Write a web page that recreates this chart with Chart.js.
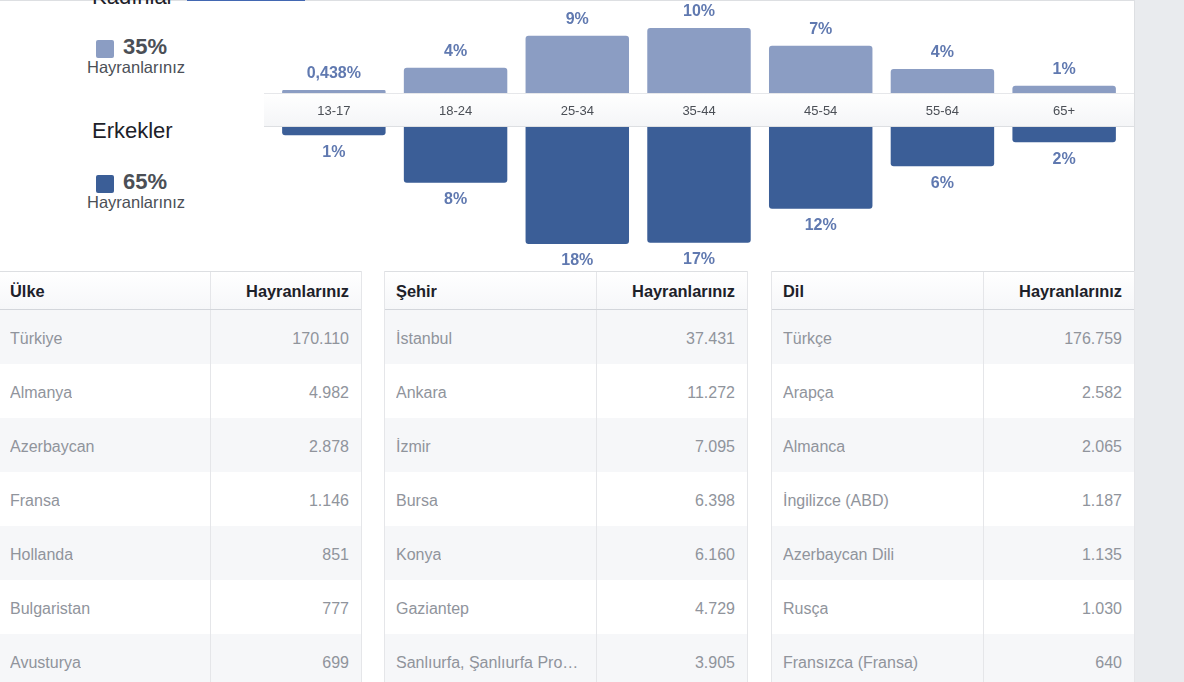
<!DOCTYPE html>
<html lang="tr">
<head>
<meta charset="utf-8">
<script src="https://cdn.jsdelivr.net/npm/chart.js@4.4.1/dist/chart.umd.min.js"></script>
<style>
  html, body { margin: 0; padding: 0; }
  body {
    width: 1184px; height: 682px; overflow: hidden; position: relative;
    background: #fff; font-family: "Liberation Sans", Arial, Helvetica, sans-serif;
  }
  .abs { position: absolute; white-space: nowrap; }
  #topLine { left: 0; top: 0; width: 1134px; height: 1px; background: #dddfe2; }
  #tabLine { left: 187px; top: 0; width: 118px; height: 1px; background: #4267b2; }
  #sidePanel { left: 1134px; top: 0; width: 50px; height: 682px; background: #e9ebee; border-left: 1px solid #dddfe2; }
  .gender { font-size: 22px; line-height: 22px; color: #1d2129; }
  .share { font-size: 22px; line-height: 22px; font-weight: bold; color: #4b4f56; }
  .fans { font-size: 16.5px; line-height: 16.5px; color: #4b4f56; }
  .swatch { width: 18px; height: 18px; border-radius: 2px; }
  #chartTop { left: 264px; top: 0; }
  #chartBottom { left: 264px; top: 93px; }
  .tbl {
    position: absolute; top: 271px; width: 364px; box-sizing: border-box;
    border-left: 1px solid #e5e6e9; border-right: 1px solid #e5e6e9; height: 420px;
  }
  .row { display: flex; height: 54px; font-size: 16px; color: #90949c; }
  .row:nth-child(even) { background: #f6f7f9; }
  .head {
    height: 39px; box-sizing: border-box; border-top: 1px solid #dddfe2; border-bottom: 1px solid #d3d6db;
    background: linear-gradient(#ffffff, #f6f7f9); font-weight: bold; color: #1d2129; font-size: 16.4px;
  }
  .name, .val { box-sizing: border-box; display: flex; align-items: center; overflow: hidden; padding-top: 4px; }
  .head .name, .head .val { padding-top: 2px; }
  .name { width: 212px; padding-left: 11px; padding-right: 10px; border-right: 1px solid #e5e6e9; }
  .name span { overflow: hidden; text-overflow: ellipsis; white-space: nowrap; }
  .val { width: 150px; padding-right: 12px; justify-content: flex-end; }
</style>
</head>
<body>
<div class="abs" id="topLine"></div>
<div class="abs" id="tabLine"></div>
<div class="abs" id="sidePanel"></div>

<div class="abs gender" style="left:92px; top:-14px;">Kadınlar</div>
<div class="abs swatch" style="left:96px; top:40px; background:#8b9dc3;"></div>
<div class="abs share" id="womenShare" style="left:123px; top:36px;"></div>
<div class="abs fans" style="left:87px; top:58.5px;">Hayranlarınız</div>

<div class="abs gender" style="left:92px; top:120px;">Erkekler</div>
<div class="abs swatch" style="left:96px; top:175px; background:#3b5e97;"></div>
<div class="abs share" id="menShare" style="left:123px; top:171px;"></div>
<div class="abs fans" style="left:87px; top:193.5px;">Hayranlarınız</div>

<canvas class="abs" id="chartTop" width="870" height="93"></canvas>
<canvas class="abs" id="chartBottom" width="870" height="177"></canvas>

<div class="tbl" id="tblCountry" style="left:-2px;"></div>
<div class="tbl" id="tblCity" style="left:384px;"></div>
<div class="tbl" id="tblLang" style="left:771px;"></div>

<script>
// age groups and share of fans (%)
var ageGroups = ['13-17', '18-24', '25-34', '35-44', '45-54', '55-64', '65+'];
var womenPct = [0.438, 3.8, 8.6, 9.8, 7.1, 3.6, 1.1];
var menPct = [1.25, 8.4, 17.6, 17.4, 12.3, 5.9, 2.3];
var womenTotal = 35;
var menTotal = 65;

// top lists
var countries = ['Türkiye', 'Almanya', 'Azerbaycan', 'Fransa', 'Hollanda', 'Bulgaristan', 'Avusturya'];
var countryFans = [170110, 4982, 2878, 1146, 851, 777, 699];
var cities = ['İstanbul', 'Ankara', 'İzmir', 'Bursa', 'Konya', 'Gaziantep', 'Sanlıurfa, Şanlıurfa Province'];
var cityFans = [37431, 11272, 7095, 6398, 6160, 4729, 3905];
var languages = ['Türkçe', 'Arapça', 'Almanca', 'İngilizce (ABD)', 'Azerbaycan Dili', 'Rusça', 'Fransızca (Fransa)'];
var languageFans = [176759, 2582, 2065, 1187, 1135, 1030, 640];

var FONT = '"Liberation Sans", Arial, sans-serif';

function pctText(v) {
    if (v < 1) {
        return v.toLocaleString('tr-TR', { maximumFractionDigits: 3 }) + '%';
    }
    return Math.round(v) + '%';
}

document.getElementById('womenShare').textContent = womenTotal + '%';
document.getElementById('menShare').textContent = menTotal + '%';

// percentage above / below every bar
var valueLabels = {
    id: 'valueLabels',
    afterDatasetsDraw: function(chart, args, opts) {
        var ctx = chart.ctx;
        var data = chart.data.datasets[0].data;
        ctx.save();
        ctx.font = 'bold 16px ' + FONT;
        ctx.fillStyle = '#6079b0';
        ctx.textAlign = 'center';
        ctx.textBaseline = 'middle';
        chart.getDatasetMeta(0).data.forEach(function(bar, i) {
            ctx.fillText(pctText(data[i]), bar.x, bar.y + opts.offset);
        });
        ctx.restore();
    }
};

// the grey band with age labels (x axis area of the lower chart)
var ageBand = {
    id: 'ageBand',
    beforeDatasetsDraw: function(chart) {
        var ctx = chart.ctx;
        var xs = chart.scales.x;
        var g = ctx.createLinearGradient(0, xs.top, 0, xs.bottom);
        g.addColorStop(0, '#ffffff');
        g.addColorStop(1, '#f4f5f7');
        ctx.save();
        ctx.fillStyle = g;
        ctx.fillRect(0, xs.top, chart.width, xs.bottom - xs.top);
        ctx.fillStyle = '#e6e7ea';
        ctx.fillRect(0, xs.top, chart.width, 1);
        ctx.fillStyle = '#dddfe2';
        ctx.fillRect(0, xs.bottom - 1, chart.width, 1);
        ctx.font = '13px ' + FONT;
        ctx.fillStyle = '#4b4f56';
        ctx.textAlign = 'center';
        ctx.textBaseline = 'middle';
        xs.ticks.forEach(function(t, i) {
            ctx.fillText(xs.getLabelForValue(t.value), xs.getPixelForTick(i), (xs.top + xs.bottom) / 2 + 1);
        });
        ctx.restore();
    }
};

function barChart(id, values, color, yOpts, xOpts, labelOffset, extraPlugins) {
    return new Chart(document.getElementById(id).getContext('2d'), {
        type: 'bar',
        data: {
            labels: ageGroups,
            datasets: [{
                data: values,
                backgroundColor: color,
                borderRadius: 3,
                barPercentage: 0.85,
                categoryPercentage: 1
            }]
        },
        options: {
            responsive: false,
            animation: false,
            events: [],
            layout: { padding: { left: 9, right: 9, top: 0, bottom: 0 } },
            scales: { x: xOpts, y: yOpts },
            plugins: {
                legend: { display: false },
                tooltip: { enabled: false },
                valueLabels: { offset: labelOffset }
            }
        },
        plugins: [valueLabels].concat(extraPlugins)
    });
}

barChart('chartTop', womenPct, '#8b9dc3',
    { display: false, min: 0, max: 14 },
    { display: false },
    -16, []);

barChart('chartBottom', menPct, '#3b5e97',
    { display: false, min: 0, max: 21.5, reverse: true },
    {
        position: 'top',
        grid: { display: false },
        border: { display: false },
        ticks: { display: false },
        afterFit: function(scale) { scale.height = 34; }
    },
    17, [ageBand]);

// tables
function fillTable(id, title, names, fans) {
    var el = document.getElementById(id);
    var html = '<div class="row head"><div class="name"><span>' + title +
        '</span></div><div class="val">Hayranlarınız</div></div>';
    names.forEach(function(n, i) {
        html += '<div class="row"><div class="name"><span>' + n + '</span></div>' +
            '<div class="val">' + fans[i].toLocaleString('tr-TR') + '</div></div>';
    });
    el.innerHTML = html;
}

fillTable('tblCountry', 'Ülke', countries, countryFans);
fillTable('tblCity', 'Şehir', cities, cityFans);
fillTable('tblLang', 'Dil', languages, languageFans);
</script>
</body>
</html>
